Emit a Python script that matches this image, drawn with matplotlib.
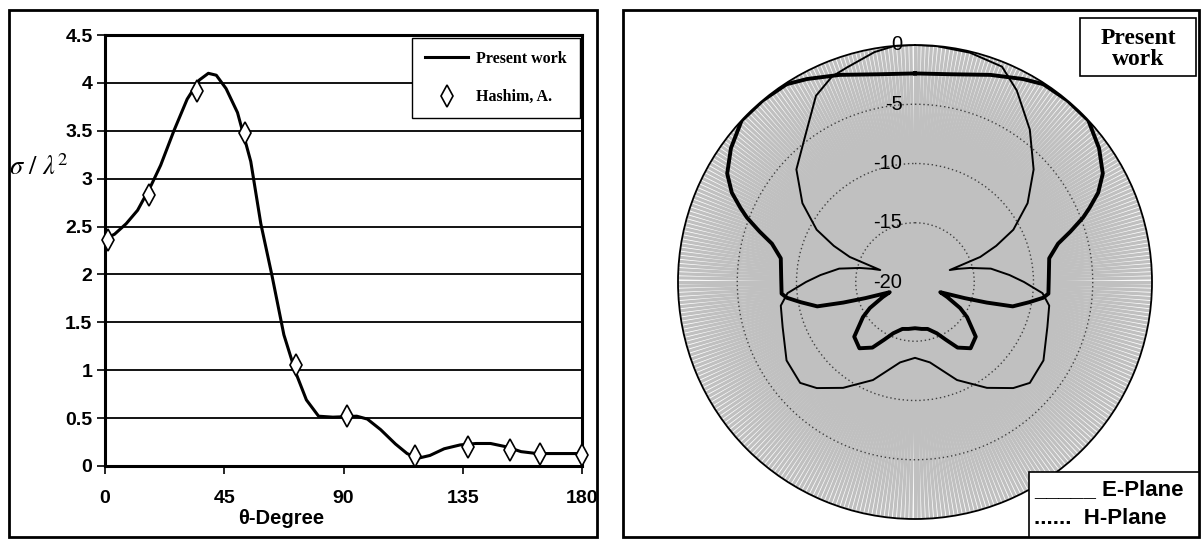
import numpy as np
import matplotlib.pyplot as plt
from matplotlib.patches import Rectangle
from matplotlib.transforms import offset_copy

plt.rcParams['mathtext.fontset'] = 'stix'

# ---- left panel: normalised RCS against angle
theta_pw = [0, 3.6, 8, 12.3, 17.4, 21, 26, 31, 35.6, 39, 42, 45.7, 50, 55, 58.8,
            63, 67.5, 71.9, 76, 80.6, 86, 95, 99, 104, 109.6, 114, 118, 122.6,
            128, 134, 140, 145.5, 151.5, 157, 163, 170, 180]
rcs_pw = [2.37, 2.42, 2.53, 2.67, 2.93, 3.14, 3.5, 3.83, 4.03, 4.10, 4.08, 3.94,
          3.69, 3.18, 2.53, 1.99, 1.37, 0.98, 0.69, 0.52, 0.51, 0.52, 0.49, 0.38,
          0.23, 0.13, 0.08, 0.11, 0.18, 0.22, 0.235, 0.235, 0.2, 0.15, 0.13, 0.13, 0.13]
theta_ha = [1.2, 16.7, 34.8, 52.7, 71.9, 91.5, 116.8, 136.9, 152.8, 164, 180]
rcs_ha = [2.36, 2.83, 3.92, 3.48, 1.05, 0.52, 0.10, 0.20, 0.17, 0.13, 0.11]
yticks_l = [0, 0.5, 1, 1.5, 2, 2.5, 3, 3.5, 4, 4.5]
ylabels_l = ['0', '0.5', '1', '1.5', '2', '2.5', '3', '3.5', '4', '4.5']
xticks_l = [0, 45, 90, 135, 180]

# ---- right panel: radiation pattern in dB (clockwise from top)
ang_e = [0, 10, 20, 28, 33, 40, 47, 54, 60, 64, 67, 69, 72, 75, 80, 88, 95, 97,
         100, 104, 106, 108, 112, 115, 120, 124, 132, 140, 147, 152, 157, 165, 172,
         180, 188, 195, 203, 208, 213, 220, 228, 236, 240, 245, 248, 252, 254, 256,
         260, 263, 265, 272, 280, 285, 288, 291, 293, 296, 300, 306, 313, 320, 327,
         332, 340, 350, 360]
db_e = [-2.4, -2.2, -1.4, -0.6, -0.1, 0, 0, -0.8, -1.7, -2.8, -4.0, -4.8, -6.2,
        -7.5, -8.5, -8.7, -8.7, -9.1, -10.2, -11.5, -13.7, -15.6, -17.7, -17.0,
        -15.6, -14.7, -13.1, -12.7, -13.4, -14.5, -15.3, -15.9, -16.0,
        -16.1, -16.0, -15.9, -15.3, -14.5, -13.4, -12.7, -13.1, -14.7, -15.6,
        -17.0, -17.7, -15.6, -13.7, -11.5, -10.2, -9.1, -8.7, -8.7, -8.5, -7.5,
        -6.2, -4.8, -4.0, -2.8, -1.7, -0.8, 0, 0, -0.1, -0.6, -1.4, -2.2, -2.4]
ang_h = [0, 5, 13.5, 22, 28, 37, 46.5, 55, 62, 66, 69, 71, 73, 75.7, 80, 85.8, 90,
         95, 100, 108.8, 121.4, 131.3, 137.2, 145.8, 156.8, 169.5, 180, 190.5,
         203.2, 214.2, 222.8, 228.7, 238.6, 251.2, 260, 265, 270, 274.2, 280, 284.3,
         287, 289, 291, 294, 298, 305, 313.5, 322, 332, 338, 342.5, 350, 355, 360]
db_h = [0, 0, -0.1, -0.4, -1.7, -3.9, -6.2, -8.4, -10.6, -12.5, -14.1, -16.9,
        -16.2, -15.2, -13.5, -12.0, -10.8, -9.2, -8.5, -8.2, -7.3, -7.1, -7.8,
        -9.2, -11.0, -13.1, -13.6, -13.1, -11.0, -9.2, -7.8, -7.1, -7.3, -8.2,
        -8.5, -9.2, -10.8, -12.0, -13.5, -15.2, -16.2, -16.9, -14.1, -12.5,
        -10.6, -8.4, -6.2, -4.8, -2.2, -1.3, -1.0, -0.3, 0, 0]
r_ticks = [0, -5, -10, -15, -20]

W, H = 1204, 544
fig = plt.figure(figsize=(W / 100, H / 100), dpi=100)

# outer frames of both panels
fig.add_artist(Rectangle((9 / W, 7 / H), 588 / W, 527 / H, transform=fig.transFigure,
                         fill=False, ec='black', lw=2))
fig.add_artist(Rectangle((623 / W, 7 / H), 576 / W, 527 / H, transform=fig.transFigure,
                         fill=False, ec='black', lw=2))

# ---------------- left panel
ax = fig.add_axes([105 / W, (H - 466) / H, 477 / W, 431 / H])
ax.plot(theta_pw, rcs_pw, color='black', lw=2.2, label='Present work', zorder=3)
ax.plot(theta_ha, rcs_ha, ls='none', marker='d', ms=11, mfc='white', mec='black',
        mew=1.2, label='Hashim, A.', zorder=4, clip_on=False)
ax.set_xlim(0, 180)
ax.set_ylim(0, 4.5)
ax.set_yticks(yticks_l)
ax.set_yticklabels(ylabels_l)
ax.set_xticks(xticks_l)
ax.yaxis.grid(True, color='black', lw=1.3)
ax.set_axisbelow(True)
for s in ax.spines.values():
    s.set_linewidth(2.2)
ax.tick_params(direction='out', length=6, width=1.2, labelsize=14, pad=3)
for lab in ax.get_xticklabels() + ax.get_yticklabels():
    lab.set_fontfamily('Liberation Sans')
    lab.set_fontweight('bold')
ax.tick_params(axis='x', pad=11)
ax.set_xlabel('θ-Degree', family='Liberation Sans', weight='bold', fontsize=14.5)
ax.xaxis.set_label_coords(0.369, -0.100)
fig.text(39 / W, (H - 168) / H, r'$\sigma\ /\ \lambda^{2}$', fontsize=19,
         ha='center', va='center')
leg = ax.legend(loc='upper right', bbox_to_anchor=(0.995, 0.993), frameon=True,
                fancybox=False, edgecolor='black', framealpha=1,
                prop={'family': 'Liberation Serif', 'weight': 'bold', 'size': 11.5},
                handlelength=2.7, labelspacing=1.4, borderpad=0.8, handletextpad=0.5,
                borderaxespad=0)
leg.get_frame().set_linewidth(1.0)

# ---------------- right panel
axp = fig.add_axes([(915 - 237) / W, (H - 282 - 237) / H, 474 / W, 474 / H],
                   projection='polar')
axp.set_theta_zero_location('N')
axp.set_theta_direction(-1)
axp.set_ylim(-20, 0)
axp.set_xticks(np.deg2rad(np.arange(0, 360, 1)))
axp.set_xticklabels([])
axp.set_yticks([-15, -10, -5])
axp.set_yticklabels([])
axp.xaxis.grid(True, color='#c0c0c0', lw=2.3, ls='-')
axp.yaxis.grid(True, color='#404040', lw=1.0, ls=(0, (1, 2)))
axp.tick_params(axis='both', length=0)
axp.spines['polar'].set_color('black')
axp.spines['polar'].set_linewidth(1.3)

axp.plot(np.deg2rad(ang_e), db_e, color='black', lw=2.8, zorder=4)
axp.plot(np.deg2rad(ang_h), db_h, color='black', lw=1.4, zorder=4)

lab_tr = offset_copy(axp.transData, fig=fig, x=-9, y=0, units='points')
for v in r_ticks:
    axp.text(0, v, str(v), transform=lab_tr, ha='right', va='center', fontsize=14.5,
             family='Liberation Sans', zorder=5)

# text boxes
fig.add_artist(Rectangle((1080 / W, (H - 76) / H), 116 / W, 58 / H,
                         transform=fig.transFigure, fc='white', ec='black', lw=1.2))
fig.text(1138 / W, (H - 49) / H, 'Present\nwork', ha='center', va='center',
         family='Liberation Serif', weight='bold', fontsize=17, linespacing=0.95)
fig.add_artist(Rectangle((1029 / W, 7 / H), 170 / W, 65 / H,
                         transform=fig.transFigure, fc='white', ec='black', lw=1.2))
fig.text(1034 / W, (H - 490) / H, '_____ E-Plane', ha='left', va='center',
         family='Liberation Sans', weight='bold', fontsize=16)
fig.text(1034 / W, (H - 518) / H, '......  H-Plane', ha='left', va='center',
         family='Liberation Sans', weight='bold', fontsize=16)

fig.savefig('out.png', dpi=100)
